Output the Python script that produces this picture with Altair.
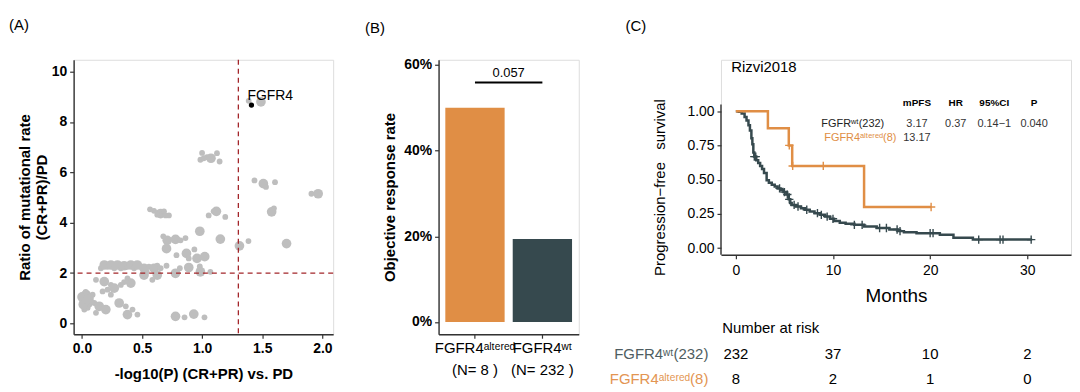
import altair as alt
import pandas as pd

FONT = "Liberation Sans"
ORANGE = "#E08E45"
DARK = "#36494E"
GRAY = "#BEBEBE"
RED = "#A3262A"

# ---------------- Panel A data ----------------
a_logp = [0.999, 0.985, 1.04, 1.073, 1.013, 1.123, 1.145,
          1.435, 1.509, 1.531, 1.606, 1.909, 1.965, 1.578, 1.597, 1.702, 1.385, 1.31,
          1.118, 1.054, 1.095, 1.192, 1.151, 0.98,
          0.566, 0.599, 0.632, 0.654, 0.682, 0.723, 0.696, 0.626,
          0.676, 0.709, 0.778, 0.82, 0.861,
          0.703, 0.786, 0.869, 0.888, 0.957, 1.021, 0.935,
          0.888, 0.814, 0.98, 0.985, 1.068, 0.778, 0.703,
          0.157, 0.185, 0.212, 0.24, 0.268, 0.295, 0.323, 0.35, 0.378, 0.406, 0.433, 0.46,
          0.488, 0.516, 0.557, 0.599, 0.626, 0.654,
          0.516, 0.585, 0.626, 0.538,
          0.116, 0.185, 0.24, 0.268, 0.323, 0.35, 0.406, 0.378, 0.171, 0.212, 0.24, 0.033,
          0.019, 0.074, 0.102, 0.047, 0.019, 0.143, 0.198, 0.116, 0.309, 0.364, 0.378, 0.42,
          0.461, 0.019, 0.061, 0.088, 0.0, 0.01, 0.05, 0.08, 0.03,
          0.778, 0.853, 0.93, 1.019,
          1.387, 1.489]
a_ratio = [6.77, 6.50, 6.60, 6.56, 6.56, 6.76, 6.43,
           5.68, 5.55, 5.42, 5.61, 5.15, 5.15, 4.43, 4.57, 3.17, 3.27, 3.08,
           4.45, 4.29, 4.45, 4.23, 3.35, 3.66,
           4.53, 4.47, 4.40, 4.36, 4.45, 4.29, 4.29, 4.32,
           3.46, 3.30, 3.34, 3.30, 3.39,
           2.97, 2.71, 2.78, 2.58, 2.58, 2.65, 2.94,
           2.22, 2.19, 2.26, 2.05, 2.05, 1.99, 2.29,
           2.19, 2.32, 2.25, 2.32, 2.19, 2.32, 2.19, 2.29, 2.25, 2.32, 2.19, 2.32,
           2.25, 2.19, 2.25, 2.19, 2.29, 2.19,
           1.92, 1.73, 1.92, 2.06,
           1.73, 1.66, 1.53, 1.40, 1.53, 1.64, 1.60, 1.79, 1.27, 1.34, 1.14, 1.14,
           0.88, 1.01, 0.81, 0.62, 0.55, 0.68, 0.55, 0.42, 0.81, 0.68, 0.35, 0.55,
           0.35, 1.01, 0.75, 1.14, 1.05, 0.75, 0.95, 0.85, 1.25,
           0.28, 0.24, 0.37, 0.24,
           8.84, 8.80]
a_count = [1, 1, 1, 2, 1, 1, 1,
           1, 2, 1, 1, 1, 2, 2, 1, 2, 1, 2,
           2, 1, 1, 1, 2, 2,
           1, 1, 1, 2, 1, 1, 1, 1,
           1, 2, 2, 1, 1,
           2, 1, 2, 1, 2, 2, 1,
           2, 1, 1, 2, 1, 2, 1,
           1, 2, 1, 2, 1, 2, 1, 2, 1, 2, 1, 2,
           1, 2, 1, 2, 1, 1,
           2, 1, 2, 1,
           1, 2, 1, 2, 1, 1, 2, 1, 1, 1, 1, 2,
           2, 1, 1, 1, 1, 2, 2, 1, 2, 1, 2, 1,
           1, 1, 1, 1, 2, 2, 2, 1, 1,
           2, 1, 2, 1,
           1, 2]
hit_gene = ["FGFR4"]
hit_logp = [1.41]
hit_ratio = [8.67]
cut_logp = [1.301]
cut_ratio = [2.0]

# ---------------- Panel B data ----------------
b_group = ["FGFR4\u1d43\u02e1\u1d57\u1d49\u02b3\u1d49\u1d48", "FGFR4\u02b7\u1d57"]
b_n = [8, 232]
b_orr = [0.50, 0.194]
b_pvalue = ["0.057"]
b_bracket_y = [0.559]
b_pvalue_y = [0.582]

# ---------------- Panel C data ----------------
km_wt_t = [0, 0.3, 0.6, 0.9, 1.1, 1.3, 1.45, 1.6, 1.7, 1.8, 1.9, 2.1, 2.3, 2.5, 2.7, 2.9, 3.17, 3.4,
           3.7, 4.0, 4.3, 4.6, 4.9, 5.2, 5.45, 5.6, 5.75, 6.2, 6.7, 7.1, 7.6, 8.1, 8.7, 9.2, 9.7,
           10.1, 10.7, 11.3, 12.2, 13.2, 14.5, 15.8, 16.7, 17.3, 18.6, 21.0, 22.4, 24.4, 30.5]
km_wt_s = [1.000, 0.996, 0.983, 0.957, 0.931, 0.897, 0.858, 0.802, 0.759, 0.698, 0.668, 0.642, 0.621,
           0.599, 0.578, 0.548, 0.496, 0.478, 0.462, 0.449, 0.436, 0.422, 0.409, 0.391, 0.356, 0.330,
           0.315, 0.304, 0.291, 0.280, 0.268, 0.255, 0.243, 0.230, 0.214, 0.198, 0.186, 0.178, 0.170,
           0.158, 0.147, 0.136, 0.124, 0.115, 0.109, 0.097, 0.075, 0.062, 0.062]
cens_wt_t = [1.9, 2.05, 4.5, 5.0, 5.3, 5.5, 6.0, 6.4, 7.3, 8.4, 8.8, 9.4, 10.0, 12.2, 13.0, 14.8,
             15.5, 16.6, 16.9, 20.0, 20.3, 25.0, 27.2, 27.5, 30.4]
cens_wt_s = [0.668, 0.668, 0.436, 0.409, 0.391, 0.356, 0.315, 0.304, 0.280, 0.255, 0.243, 0.230,
             0.214, 0.170, 0.170, 0.147, 0.147, 0.136, 0.124, 0.109, 0.109, 0.062, 0.062, 0.062, 0.062]
km_alt_t = [0, 3.3, 5.45, 5.8, 13.2, 20.1]
km_alt_s = [1.0, 0.875, 0.75, 0.6, 0.3, 0.3]
cens_alt_t = [5.5, 5.85, 9.0, 20.1]
cens_alt_s = [0.75, 0.6, 0.6, 0.3]

grp_wt = "FGFR4\u02b7\u1d57"
grp_alt = "FGFR4\u1d43\u02e1\u1d57\u1d49\u02b3\u1d49\u1d48"

stat_headers = ["mPFS", "HR", "95%CI", "P"]
stat_cols_t = [18.64, 22.63, 26.6, 30.7]
stat_header_s = [1.058]
stat_row_labels = ["FGFR\u02b7\u1d57(232)", "FGFR4\u1d43\u02e1\u1d57\u1d49\u02b3\u1d49\u1d48(8)"]
stat_row_label_t = [8.8, 9.1]
stat_row_s = [0.908, 0.806]
stat_wt_values = ["3.17", "0.37", "0.14\u22121", "0.040"]
stat_alt_values = ["13.17"]

risk_times = [0, 10, 20, 30]
risk_wt = [232, 37, 10, 2]
risk_alt = [8, 2, 1, 0]
risk_labels = ["FGFR4\u02b7\u1d57(232)", "FGFR4\u1d43\u02e1\u1d57\u1d49\u02b3\u1d49\u1d48(8)"]
risk_title = ["Number at risk"]
risk_title_s = [-0.583]
risk_row_s = [-0.772, -0.953]
risk_label_t = [-2.83]
study = ["Rizvi2018"]
study_pos = [-0.48, 1.32]

# axis extents of the survival plot (survival axis runs -0.048 .. 1.049)
c_t_min, c_t_max = -1.53, 34.5
c_s_min, c_s_axis_top, c_s_view_top = -0.048, 1.049, 1.375

# ---------------- helpers ----------------
def axis_style(bold=True, **kw):
    base = dict(labelFont=FONT, titleFont=FONT, labelFontSize=14, titleFontSize=15,
                labelFontWeight="bold" if bold else "normal",
                titleFontWeight="bold" if bold else "normal",
                labelColor="black", titleColor="black", domainColor="#333333",
                tickColor="#333333", domainWidth=1.4, tickWidth=1.2, tickSize=4, grid=False)
    base.update(kw)
    return alt.Axis(**base)

def panel_title(text, dx, offset):
    return alt.TitleParams(text, anchor="start", frame="group", dx=dx, offset=offset,
                           fontSize=15, fontWeight="normal", font=FONT, color="black")

# ---------------- Panel A ----------------
dfA = pd.DataFrame({"logp": a_logp, "ratio": a_ratio, "count": a_count})
xA = alt.X("logp:Q", scale=alt.Scale(domain=[-0.07, 2.09], nice=False, zero=False),
           axis=axis_style(values=[0, 0.5, 1.0, 1.5, 2.0], format=".1f",
                           title="-log10(P) (CR+PR) vs. PD", labelPadding=3, titlePadding=12))
yA = alt.Y("ratio:Q", scale=alt.Scale(domain=[-0.43, 10.47], nice=False, zero=False),
           axis=axis_style(values=[0, 2, 4, 6, 8, 10], format="d",
                           title=["Ratio of mutational rate", "(CR+PR)/PD"],
                           labelPadding=3, titlePadding=2, titleLineHeight=17))
ptsA = alt.Chart(dfA).mark_circle(color=GRAY, opacity=1).encode(
    x=xA, y=yA,
    size=alt.Size("count:Q", scale=alt.Scale(domain=[1, 2], range=[34, 95]), legend=None))
dfHit = pd.DataFrame({"logp": hit_logp, "ratio": hit_ratio, "gene": hit_gene})
hitA = alt.Chart(dfHit).mark_circle(color="black", opacity=1, size=28).encode(x=xA, y=yA)
labA = alt.Chart(dfHit).mark_text(align="left", baseline="middle", dx=-4, dy=-9,
                                  fontSize=14, font=FONT, color="black").encode(x=xA, y=yA, text="gene:N")
vrA = alt.Chart(pd.DataFrame({"logp": cut_logp})).mark_rule(
    color=RED, strokeDash=[5, 4], strokeWidth=1.3).encode(x=xA)
hrA = alt.Chart(pd.DataFrame({"ratio": cut_ratio})).mark_rule(
    color=RED, strokeDash=[5, 4], strokeWidth=1.3).encode(y=yA)
chartA = alt.layer(ptsA, hitA, labA, vrA, hrA).properties(
    width=261, height=276, title=panel_title("(A)", -65, 26))

# ---------------- Panel B ----------------
b_labels = [f"{g}|(N= {n} )" for g, n in zip(b_group, b_n)]
dfB = pd.DataFrame({"label": b_labels, "orr": b_orr})
xscaleB = alt.Scale(domain=b_labels, paddingInner=0.12, paddingOuter=0.1)
xaxisB = axis_style(bold=False, title=None, labelAngle=0, labelFontSize=15,
                    labelExpr="split(datum.label, '|')", labelLineHeight=22,
                    labelPadding=2, labelOverlap=False, labelBound=False)
xB = alt.X("label:N", scale=xscaleB, sort=None, axis=xaxisB)
yscaleB = alt.Scale(domain=[-0.0285, 0.612], nice=False, zero=False)
yB = alt.Y("orr:Q", scale=yscaleB,
           axis=axis_style(values=[0, 0.2, 0.4, 0.6], format=".0%",
                           title="Objective response rate", labelPadding=3, titlePadding=6))
barsB = alt.Chart(dfB).mark_bar().encode(
    x=xB, y=yB, y2=alt.datum(0),
    color=alt.Color("label:N", scale=alt.Scale(domain=b_labels, range=[ORANGE, DARK]), legend=None))
dfBr = pd.DataFrame({"label": [b_labels[0]], "to": [b_labels[1]], "orr": b_bracket_y})
bracketB = alt.Chart(dfBr).mark_rule(color="black", strokeWidth=2).encode(
    x=xB, x2="to:N", y=yB)
dfP = pd.DataFrame({"label": [b_labels[0]], "orr": b_pvalue_y, "p": b_pvalue})
ptextB = alt.Chart(dfP).mark_text(align="center", baseline="middle", fontSize=13, font=FONT,
                                  color="black", dx=4).encode(
    x=alt.X("label:N", scale=xscaleB, sort=None, axis=xaxisB, bandPosition=1),
    y=yB, text="p:N")
chartB = alt.layer(barsB, bracketB, ptextB).properties(
    width=141, height=276, title=panel_title("(B)", -74, 22))

# ---------------- Panel C ----------------
xC = alt.X("t:Q", scale=alt.Scale(domain=[c_t_min, c_t_max], nice=False, zero=False),
           axis=axis_style(bold=False, values=[0, 10, 20, 30], title="Months",
                           titleFontSize=19, labelPadding=5, titlePadding=9))
yC = alt.Y("s:Q", scale=alt.Scale(domain=[c_s_min, c_s_view_top], nice=False, zero=False),
           axis=axis_style(bold=False, values=[0, 0.25, 0.5, 0.75, 1.0], format=".2f",
                           title="Progression\u2212free\u00a0\u00a0\u00a0survival", domain=False,
                           labelPadding=3, titlePadding=20, titleY=128))
colC = alt.Color("grp:N", scale=alt.Scale(domain=[grp_wt, grp_alt], range=[DARK, ORANGE]), legend=None)

dfAxisLine = pd.DataFrame({"t": [c_t_min], "s": [c_s_min], "s_top": [c_s_axis_top]})
yAxisLineC = alt.Chart(dfAxisLine).mark_rule(color="#333333", strokeWidth=1.4).encode(
    x=xC, y=yC, y2=alt.Y2("s_top:Q"))

dfKM = pd.concat([
    pd.DataFrame({"t": km_wt_t, "s": km_wt_s, "grp": grp_wt}),
    pd.DataFrame({"t": km_alt_t, "s": km_alt_s, "grp": grp_alt}),
], ignore_index=True)
dfCens = pd.concat([
    pd.DataFrame({"t": cens_wt_t, "s": cens_wt_s, "grp": grp_wt}),
    pd.DataFrame({"t": cens_alt_t, "s": cens_alt_s, "grp": grp_alt}),
], ignore_index=True)
linesC = alt.Chart(dfKM).mark_line(interpolate="step-after", strokeWidth=2.5).encode(
    x=xC, y=yC, color=colC, order="t:Q")
censC = alt.Chart(dfCens).mark_point(shape="M-1,0L1,0M0,-1L0,1", size=70, strokeWidth=1.4,
                                     filled=False, opacity=1).encode(x=xC, y=yC, color=colC)

studyC = alt.Chart(pd.DataFrame({"t": [study_pos[0]], "s": [study_pos[1]], "txt": study})).mark_text(
    align="left", baseline="middle", fontSize=15, font=FONT, color="black").encode(x=xC, y=yC, text="txt:N")

dfHead = pd.DataFrame({"t": stat_cols_t, "s": stat_header_s * 4, "txt": stat_headers})
headC = alt.Chart(dfHead).mark_text(align="center", baseline="middle", fontSize=10,
                                    fontWeight="bold", font=FONT, color="black").encode(x=xC, y=yC, text="txt:N")
dfRowLab = pd.DataFrame({"t": stat_row_label_t, "s": stat_row_s, "txt": stat_row_labels,
                         "grp": [grp_wt, grp_alt]})
rowLabC = alt.Chart(dfRowLab).mark_text(align="left", baseline="middle", fontSize=11, font=FONT).encode(
    x=xC, y=yC, text="txt:N",
    color=alt.Color("grp:N", scale=alt.Scale(domain=[grp_wt, grp_alt], range=["#222222", ORANGE]), legend=None))
dfVals = pd.DataFrame({"t": stat_cols_t + stat_cols_t[:1],
                       "s": [stat_row_s[0]] * 4 + [stat_row_s[1]],
                       "txt": stat_wt_values + stat_alt_values})
valsC = alt.Chart(dfVals).mark_text(align="center", baseline="middle", fontSize=11, font=FONT,
                                    color="#333333").encode(x=xC, y=yC, text="txt:N")

riskTitleC = alt.Chart(pd.DataFrame({"t": [-1.4], "s": risk_title_s, "txt": risk_title})).mark_text(
    align="left", baseline="middle", fontSize=15, font=FONT, color="black").encode(x=xC, y=yC, text="txt:N")
dfRiskLab = pd.DataFrame({"t": risk_label_t * 2, "s": risk_row_s, "txt": risk_labels,
                          "grp": [grp_wt, grp_alt]})
riskLabC = alt.Chart(dfRiskLab).mark_text(align="right", baseline="middle", fontSize=15, font=FONT).encode(
    x=xC, y=yC, text="txt:N",
    color=alt.Color("grp:N", scale=alt.Scale(domain=[grp_wt, grp_alt], range=["#4E5D61", "#E39552"]), legend=None))
dfRisk = pd.concat([
    pd.DataFrame({"t": risk_times, "s": risk_row_s[0], "txt": [str(v) for v in risk_wt]}),
    pd.DataFrame({"t": risk_times, "s": risk_row_s[1], "txt": [str(v) for v in risk_alt]}),
], ignore_index=True)
riskC = alt.Chart(dfRisk).mark_text(align="center", baseline="middle", fontSize=15, font=FONT,
                                    color="black").encode(x=xC, y=yC, text="txt:N")

chartC = alt.layer(yAxisLineC, linesC, censC, studyC, headC, rowLabC, valsC, riskTitleC, riskLabC,
                   riskC).resolve_scale(color="independent").properties(
    width=352, height=196, title=panel_title("(C)", -96, 26))

chart = alt.hconcat(chartA, chartB, chartC, spacing=29).resolve_scale(color="independent").properties(
    padding={"left": 0, "top": 8, "right": 0, "bottom": 0}
).configure_view(strokeWidth=0, strokeOpacity=0).configure(font=FONT)

chart.save("out.html", embed_options={"renderer": "svg", "actions": False})
